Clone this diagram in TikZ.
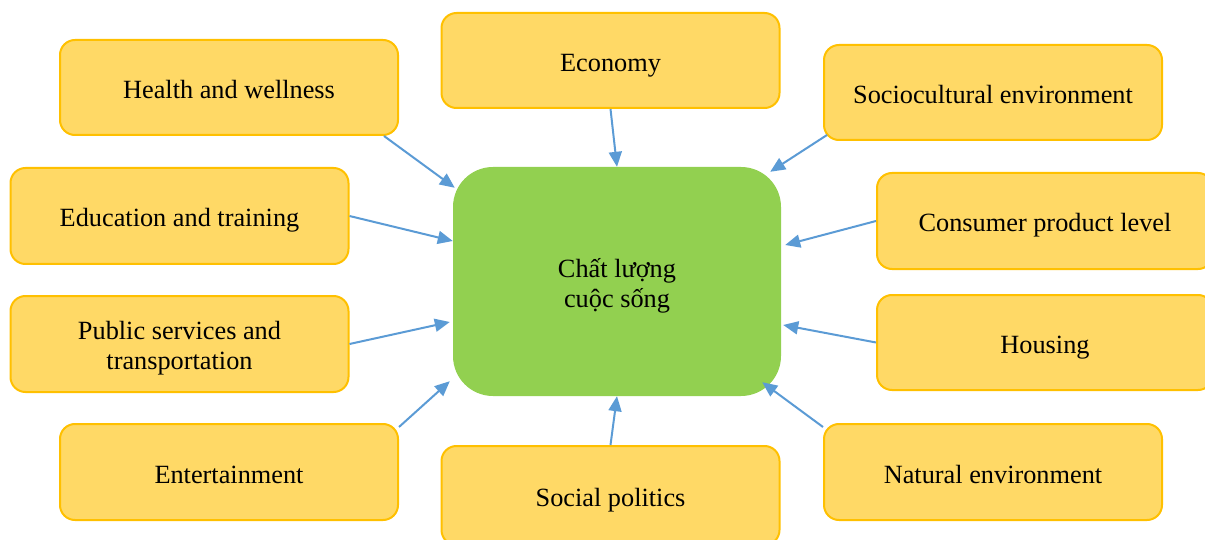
\documentclass[tikz,border=0pt]{standalone}
\usepackage{fontspec}
\setmainfont{Liberation Serif}
\usetikzlibrary{arrows.meta,calc}
\definecolor{boxfill}{HTML}{FFD966}
\definecolor{boxline}{HTML}{FFC000}
\definecolor{centfill}{HTML}{92D050}
\definecolor{arrcol}{HTML}{5B9BD5}
\begin{document}
\begin{tikzpicture}[x=1pt,y=-1pt,
  factor/.style={draw=boxline,fill=boxfill,line width=2pt,rounded corners=15pt,
    minimum width=338pt,minimum height=95pt,align=center,inner sep=0pt,
    text height=24.5pt,text depth=2.5pt,
    font=\fontsize{26.3}{30}\selectfont},
  twoline/.style={text height=54pt,text depth=3pt},
  centre/.style={fill=centfill,rounded corners=40pt,
    minimum width=328pt,minimum height=229pt,align=center,inner sep=0pt,
    text height=55pt,text depth=3pt,font=\fontsize{26.3}{30}\selectfont},
  link/.style={draw=arrcol,line width=2pt,-{Triangle[length=15pt,width=13pt]}}]
\useasboundingbox (0,0) rectangle (1205,540);
\node[centre] (c) at (617,281.5) {Chất lượng\\cuộc sống};
\node[factor] (h) at (229,87.5) {Health and wellness};
\node[factor] (e) at (610.5,60.5) {Economy};
\node[factor] (s) at (993,92.5) {Sociocultural environment};
\node[factor,minimum height=96pt] (ed) at (179.5,216) {Education and training};
\node[factor,minimum width=336pt,minimum height=96pt] (cp) at (1045,221) {Consumer product level};
\node[factor,minimum height=96pt,twoline] (p) at (179.5,344) {Public services and\\transportation};
\node[factor,minimum width=336pt] (ho) at (1045,342.5) {Housing};
\node[factor,minimum height=96pt] (en) at (229,472) {Entertainment};
\node[factor,minimum height=99pt] (sp) at (610.5,495.5) {Social politics};
\node[factor,minimum height=96pt] (n) at (993,472) {Natural environment};
\draw[link] ($(h.south east)+(-15,0)$) -- ($(c.north west)+(2,21)$);
\draw[link] (e.south) -- (c.north);
\draw[link] ($(s.south west)+(4,-6)$) -- ($(c.north east)+(-11,5)$);
\draw[link] (ed.east) -- ($(c.west)+(0,-40.5)$);
\draw[link] (cp.west) -- ($(c.east)+(4,-36.5)$);
\draw[link] (p.east) -- ($(c.west)+(-3,40.5)$);
\draw[link] (ho.west) -- ($(c.east)+(2,43.5)$);
\draw[link] ($(en.north east)+(0,4)$) -- ($(c.south west)+(-3,-15)$);
\draw[link] (sp.north) -- (c.south);
\draw[link] ($(n.north west)+(0,4)$) -- ($(c.south east)+(-19,-14)$);
\end{tikzpicture}
\end{document}
